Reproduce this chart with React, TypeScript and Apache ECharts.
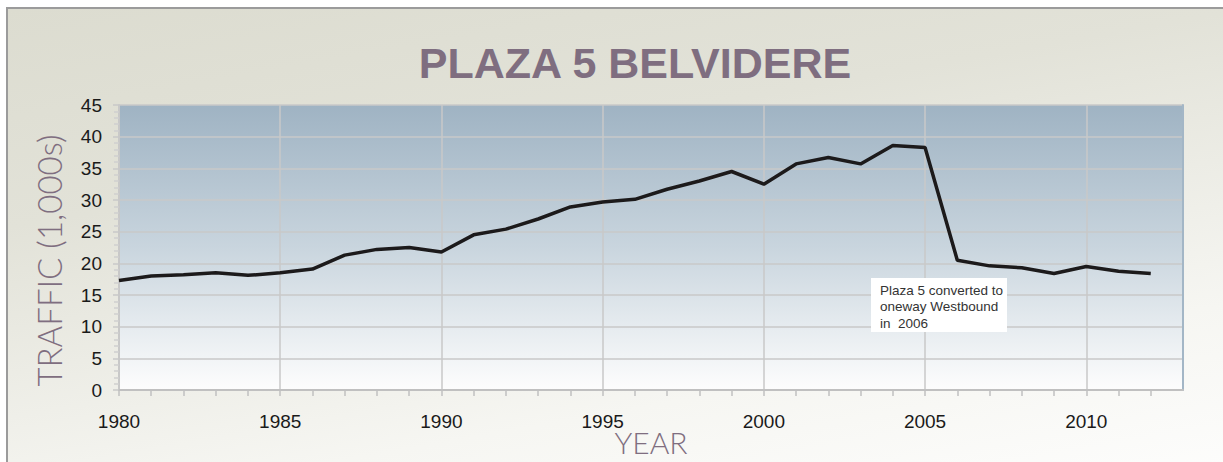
import React, { useEffect, useRef } from "react";
import * as echarts from "echarts";

const years = [
  1980, 1981, 1982, 1983, 1984, 1985, 1986, 1987, 1988, 1989, 1990,
  1991, 1992, 1993, 1994, 1995, 1996, 1997, 1998, 1999, 2000,
  2001, 2002, 2003, 2004, 2005, 2006, 2007, 2008, 2009, 2010, 2011, 2012,
];
const traffic = [
  17.3, 18.0, 18.2, 18.5, 18.1, 18.5, 19.1, 21.3, 22.2, 22.5, 21.8,
  24.5, 25.4, 27.0, 28.9, 29.7, 30.1, 31.7, 33.0, 34.5, 32.5,
  35.7, 36.7, 35.7, 38.6, 38.3, 20.5, 19.6, 19.3, 18.4, 19.5, 18.75, 18.4,
];
const yearLabels = ["1980", "1985", "1990", "1995", "2000", "2005", "2010"];
const titleText = "PLAZA 5 BELVIDERE";
const yName = "TRAFFIC (1,000s)";
const xName = "YEAR";
const noteLines = ["Plaza 5 converted to", "oneway Westbound", "in  2006"];

export default function App() {
  const ref = useRef<HTMLDivElement>(null);
  useEffect(() => {
    document.body.style.margin = "0";
    if (!ref.current) return;
    const chart = echarts.init(ref.current, null, { renderer: "svg" });
    const font = "'Liberation Sans', Arial, sans-serif";
    const purple = "#7f6e80";
    chart.setOption({
      animation: false,
      backgroundColor: "transparent",
      textStyle: { fontFamily: font },
      title: {
        text: titleText,
        left: 630,
        top: 36,
        textAlign: "center",
        textStyle: { fontSize: 43, fontWeight: "bold", color: purple, fontFamily: font },
      },
      grid: {
        left: 119,
        right: 40,
        top: 105,
        bottom: 72,
        outerBoundsMode: "none",
        containLabel: false,
        show: true,
        borderWidth: 0,
        backgroundColor: new echarts.graphic.LinearGradient(0, 0, 0, 1, [
          { offset: 0, color: "#9fb3c3" },
          { offset: 0.5, color: "#c9d5de" },
          { offset: 1, color: "#fdfdfd" },
        ]),
      },
      xAxis: [
        {
          type: "value",
          min: 1980,
          max: 2013,
          interval: 1,
          name: xName,
          nameLocation: "middle",
          nameGap: 37,
          nameMoveOverlap: false,
          nameTextStyle: { fontSize: 30, color: purple, fontFamily: "Lato, sans-serif", fontWeight: 300 },
          axisLine: { show: true, lineStyle: { color: "#c0c0c0", width: 2 } },
          axisTick: { show: true, length: 6, lineStyle: { color: "#c0c0c0", width: 1.5 } },
          axisLabel: {
            margin: 22,
            fontSize: 19,
            color: "#1a1a1a",
            showMaxLabel: false,
            formatter: (v: number) => (yearLabels.indexOf(String(v)) >= 0 ? String(v) : ""),
          },
          splitLine: { show: false },
        },
        {
          type: "value",
          min: 1980,
          max: 2013,
          interval: 5,
          position: "bottom",
          axisLine: { show: false },
          axisTick: { show: false },
          axisLabel: { show: false },
          splitLine: { show: true, lineStyle: { color: "#c8c8c8", width: 1.5 } },
        },
      ],
      yAxis: [
        {
          type: "value",
          min: 0,
          max: 45,
          interval: 5,
          name: yName,
          nameLocation: "middle",
          nameGap: 54,
          nameMoveOverlap: false,
          nameTextStyle: {
            fontSize: 33,
            color: purple,
            fontFamily: "Lato, sans-serif",
            fontWeight: 300,
            padding: [0, 26, 0, 0],
          },
          axisLine: { show: true, lineStyle: { color: "#c8c8c8", width: 2 } },
          axisTick: { show: true, length: 6, lineStyle: { color: "#c8c8c8", width: 1.5 } },
          minorTick: { show: true, splitNumber: 5, length: 5, lineStyle: { color: "#cfcfcf", width: 1.5 } },
          axisLabel: { margin: 17, fontSize: 19, color: "#1a1a1a" },
          splitLine: { show: true, lineStyle: { color: "#c8c8c8", width: 1.5 } },
        },
        {
          type: "value",
          min: 0,
          max: 45,
          position: "right",
          axisLine: { show: true, lineStyle: { color: "#a3b6c6", width: 2 } },
          axisTick: { show: false },
          axisLabel: { show: false },
          splitLine: { show: false },
        },
      ],
      series: [
        {
          type: "line",
          data: years.map((y, i) => [y, traffic[i]]),
          showSymbol: false,
          symbol: "none",
          lineStyle: { color: "#1c1a1b", width: 3.5 },
          z: 5,
        },
      ],
      graphic: [
        {
          type: "rect",
          left: 871,
          top: 278,
          z: 100,
          shape: { width: 136, height: 54 },
          style: { fill: "#ffffff" },
        },
        {
          type: "text",
          left: 880,
          top: 282,
          z: 101,
          style: {
            text: noteLines.join("\n"),
            font: "13.5px 'Liberation Sans', Arial, sans-serif",
            lineHeight: 16.5,
            fill: "#333333",
          },
        },
      ],
    });
    return () => chart.dispose();
  }, []);
  return (
    <div style={{ position: "relative", width: 1223, height: 462, overflow: "hidden", background: "#ffffff" }}>
      <div
        style={{
          position: "absolute",
          left: 6,
          top: 7,
          width: 1300,
          height: 500,
          borderTop: "2px solid #9b9b9b",
          borderLeft: "2px solid #9b9b9b",
          background: "linear-gradient(170deg, #dcdcd0 0%, #e2e2d8 30%, #f6f6f2 70%, #ffffff 100%)",
        }}
      />
      <div ref={ref} style={{ position: "absolute", left: 0, top: 0, width: 1223, height: 462 }} />
    </div>
  );
}
